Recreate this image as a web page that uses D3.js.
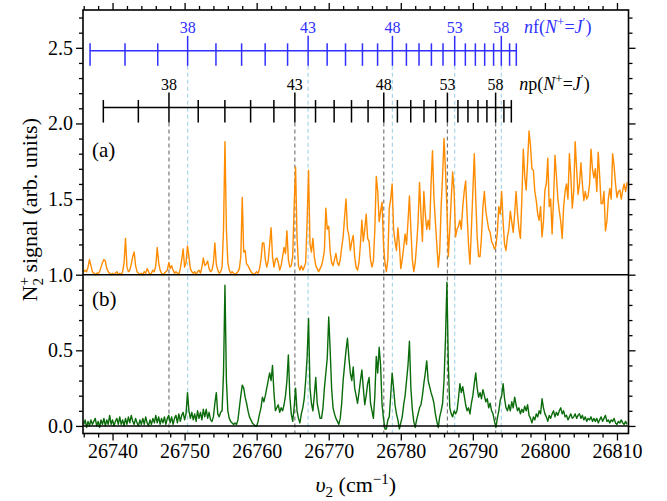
<!DOCTYPE html>
<html>
<head>
<meta charset="utf-8">
<script src="https://cdn.jsdelivr.net/npm/d3@7"></script>
<style>
body { margin: 0; background: #fff; }
text { font-family: "Liberation Serif", "Times New Roman", Tinos, "Nimbus Roman", "DejaVu Serif", serif; }
</style>
</head>
<body>
<script>
// spectra sampled every 0.2 cm-1 starting at gridStart
var gridStart = 26736.0, gridStep = 0.2;

// trace (a), plotted with an offset of 1
var sigA = [
 0.02,0.03,0.02,0.05,0.10, 0.06,0.02,0.01,0.00,0.01, 0.01,0.02,0.05,0.08,0.10, 0.09,0.04,0.02,0.01,0.00,
 0.01,0.00,0.01,0.02,0.00, 0.01,0.00,0.02,0.08,0.24, 0.05,0.02,0.03,0.07,0.12, 0.15,0.06,0.02,0.01,0.00,
 0.01,0.00,0.02,0.01,0.04, 0.02,0.00,0.01,0.03,0.02, 0.06,0.18,0.08,0.03,0.01, 0.00,0.01,0.02,0.03,0.08,
 0.04,0.06,0.03,0.01,0.02, 0.01,0.00,0.04,0.10,0.17, 0.05,0.08,0.19,0.12,0.04, 0.02,0.01,0.02,0.00,0.02,
 0.03,0.01,0.05,0.11,0.06, 0.07,0.09,0.04,0.02,0.03, 0.08,0.21,0.07,0.03,0.01, 0.02,0.05,0.30,0.88,0.30,
 0.08,0.03,0.01,0.02,0.01, 0.00,0.01,0.02,0.04,0.12, 0.51,0.15,0.16,0.07,0.06, 0.04,0.02,0.01,0.00,0.01,
 0.02,0.01,0.04,0.10,0.21, 0.21,0.10,0.05,0.09,0.20, 0.31,0.12,0.05,0.10,0.11, 0.08,0.03,0.06,0.12,0.18,
 0.14,0.29,0.10,0.05,0.06, 0.12,0.45,0.71,0.25,0.06, 0.03,0.06,0.03,0.05,0.08, 0.35,0.69,0.20,0.15,0.24,
 0.12,0.06,0.04,0.02,0.04, 0.06,0.10,0.16,0.44,0.30, 0.32,0.15,0.08,0.06,0.10, 0.14,0.08,0.06,0.10,0.18,
 0.25,0.38,0.50,0.30,0.26, 0.16,0.22,0.26,0.12,0.05, 0.03,0.08,0.20,0.36,0.22, 0.30,0.40,0.24,0.22,0.10,
 0.05,0.09,0.30,0.65,0.55, 0.35,0.42,0.48,0.20,0.08, 0.02,0.10,0.44,0.50,0.60, 0.30,0.22,0.16,0.31,0.20,
 0.04,0.10,0.18,0.27,0.20, 0.35,0.52,0.30,0.10,0.02, 0.08,0.20,0.35,0.61,0.40, 0.22,0.55,0.40,0.30,0.36,
 0.30,0.60,0.82,0.51,0.35, 0.20,0.05,0.15,0.45,0.65, 0.90,0.69,0.45,0.12,0.30, 0.50,0.68,0.55,0.25,0.30,
 0.32,0.36,0.30,0.45,0.55, 0.62,0.40,0.20,0.07,0.30, 0.55,0.80,0.50,0.25,0.12, 0.12,0.25,0.45,0.55,0.42,
 0.36,0.30,0.28,0.22,0.20, 0.17,0.19,0.28,0.45,0.40, 0.55,0.35,0.20,0.16,0.25, 0.30,0.42,0.35,0.28,0.40,
 0.55,0.40,0.30,0.24,0.50, 0.83,0.65,0.56,0.75,0.95, 0.85,0.70,0.69,0.55,0.49, 0.40,0.36,0.45,0.25,0.35,
 0.56,0.60,0.77,0.45,0.50, 0.27,0.50,0.79,0.65,0.50, 0.42,0.35,0.24,0.45,0.55, 0.60,0.50,0.80,0.65,0.44,
 0.55,0.88,0.70,0.53,0.60, 0.74,0.60,0.49,0.55,0.50, 0.52,0.60,0.83,0.70,0.64, 0.70,0.55,0.81,0.65,0.47,
 0.47,0.55,0.29,0.35,0.50, 0.57,0.50,0.80,0.72,0.60, 0.51,0.55,0.56,0.50,0.56, 0.60,0.55,0.61
];
var offsetA = 1.0;

// trace (b)
var sigB = [
 0.01,0.04,-0.01,0.03,0.00, 0.04,0.01,0.03,0.05,0.00, 0.03,-0.01,0.04,0.01,0.05, 0.00,0.04,0.01,0.07,0.01,
 0.04,0.00,0.03,0.05,0.01, 0.06,0.01,0.04,0.00,0.05, 0.01,0.06,0.02,0.07,0.03, 0.01,0.05,0.02,0.00,0.04,
 0.01,0.05,0.01,0.06,0.02, 0.00,0.04,0.01,0.05,0.02, 0.07,0.02,0.06,0.01,0.05, 0.02,0.06,0.01,0.05,0.07,
 0.02,0.06,0.01,0.05,0.07, 0.02,0.08,0.03,0.07,0.09, 0.04,0.08,0.22,0.10,0.05, 0.09,0.04,0.08,0.03,0.10,
 0.05,0.09,0.04,0.11,0.06, 0.11,0.05,0.09,0.04,0.03, 0.06,0.15,0.22,0.08,0.06, 0.09,0.10,0.35,0.93,0.30,
 0.10,0.05,0.03,0.02,0.01, 0.02,0.01,0.04,0.12,0.20, 0.27,0.25,0.19,0.15,0.10, 0.06,0.04,0.02,0.01,0.00,
 0.00,0.03,0.08,0.12,0.19, 0.16,0.20,0.25,0.30,0.35, 0.30,0.40,0.22,0.10,0.12, 0.14,0.09,0.12,0.10,0.14,
 0.20,0.30,0.47,0.20,0.08, 0.03,0.12,0.25,0.10,0.05, 0.02,0.08,0.12,0.18,0.30, 0.45,0.71,0.25,0.15,0.10,
 0.20,0.32,0.15,0.10,0.05, 0.05,0.12,0.25,0.35,0.45, 0.72,0.50,0.25,0.12,0.08, 0.05,0.03,0.01,0.05,0.15,
 0.30,0.40,0.50,0.58,0.45, 0.35,0.30,0.39,0.25,0.20, 0.15,0.22,0.30,0.37,0.25, 0.14,0.20,0.28,0.32,0.15,
 0.10,0.05,0.20,0.46,0.35, 0.52,0.40,0.14,0.05,-0.02, -0.02,0.04,0.06,0.20,0.35, 0.25,0.14,0.08,0.04,-0.02,
 0.02,0.06,0.14,0.20,0.30, 0.40,0.56,0.25,0.11,0.03, -0.01,0.04,0.08,0.12,0.14, 0.20,0.28,0.35,0.43,0.30,
 0.26,0.22,0.19,0.15,0.08, 0.03,-0.01,0.06,0.10,0.15, 0.30,0.57,0.95,0.40,0.12, 0.08,0.06,0.10,0.08,0.10,
 0.18,0.28,0.22,0.26,0.20, 0.14,0.10,0.12,0.08,0.15, 0.20,0.28,0.35,0.25,0.19, 0.22,0.18,0.24,0.20,0.16,
 0.18,0.12,0.15,0.10,0.08, 0.03,-0.01,0.05,0.10,0.17, 0.20,0.28,0.18,0.12,0.10, 0.14,0.10,0.16,0.12,0.19,
 0.14,0.10,0.12,0.08,0.11, 0.09,0.13,0.10,0.14,0.07, 0.05,0.02,0.06,0.04,0.08, 0.06,0.10,0.08,0.18,0.12,
 0.08,0.06,0.03,0.07,0.05, 0.08,0.10,0.06,0.09,0.07, 0.10,0.12,0.08,0.10,0.06, 0.07,0.04,0.06,0.08,0.05,
 0.06,0.08,0.05,0.07,0.08, 0.05,0.07,0.04,0.06,0.03, 0.05,0.04,0.06,0.03,0.05, 0.03,0.05,0.02,0.04,0.06,
 0.03,0.05,0.07,0.03,0.04, 0.02,0.04,0.03,0.05,0.02, 0.01,0.03,0.02,0.04,0.02, 0.01,0.03,0.01
];

// Rydberg ladders: nf and np (N+ = J'), positions in cm-1
var nfLevels = [35,36,37,38,39,40,41,42,43,44,45,46,47,48,49,50,51,52,53,54,55,56,57,58,59,60];
var nfPos = [26736.88,26741.73,26746.27,26750.42,26754.35,26757.91,26761.18,26764.29,26767.14,26769.78,
  26772.33,26774.68,26776.78,26778.84,26780.78,26782.53,26784.25,26785.86,26787.48,26788.96,
  26790.35,26791.64,26792.88,26793.95,26795.10,26796.03];
var npLevels = [36,37,38,39,40,41,42,43,44,45,46,47,48,49,50,51,52,53,54,55,56,57,58,59,60];
var npPos = [26738.72,26743.58,26747.83,26751.89,26755.59,26759.16,26762.39,26765.30,26768.17,26770.75,
  26773.16,26775.46,26777.64,26779.53,26781.38,26783.22,26784.84,26786.47,26787.93,26789.32,
  26790.71,26791.95,26793.16,26794.31,26795.34];
var labelled = [38,43,48,53,58];
var nfY = 2.48, npY = 2.105;

var xTicks = [26740,26750,26760,26770,26780,26790,26800,26810];
var yTicks = [0.0,0.5,1.0,1.5,2.0,2.5];

var margin = {top: 10, right: 38.5, bottom: 67.5, left: 83}
  , width = 667 - margin.left - margin.right
  , height = 501 - margin.top - margin.bottom;

var xScale = d3.scaleLinear().domain([26735.9, 26811.6]).range([0, width]);
var yScale = d3.scaleLinear().domain([-0.05, 2.75]).range([height, 0]);

var svg = d3.select("body").append("svg")
    .attr("width", 667)
    .attr("height", 501)
  .append("g")
    .attr("transform", "translate(" + margin.left + "," + margin.top + ")");

var ptsA = sigA.map(function(v, i) { return {x: gridStart + i * gridStep, y: v + offsetA}; });
var ptsB = sigB.map(function(v, i) { return {x: gridStart + i * gridStep, y: v}; });

var line = d3.line()
    .x(function(d) { return xScale(d.x); })
    .y(function(d) { return yScale(d.y); });

// dashed guide lines under labelled ladder rungs
var blueCol = "#2f2fff";
labelled.forEach(function(n) {
  var xb = xScale(nfPos[nfLevels.indexOf(n)]);
  svg.append("line").attr("x1", xb).attr("x2", xb)
    .attr("y1", yScale(nfY) + 15).attr("y2", height)
    .attr("stroke", "#a9d6e8").attr("stroke-width", 1.2).attr("stroke-dasharray", "4,3");
  var xk = xScale(npPos[npLevels.indexOf(n)]);
  svg.append("line").attr("x1", xk).attr("x2", xk)
    .attr("y1", yScale(npY) + 15).attr("y2", height)
    .attr("stroke", "#7a7a7a").attr("stroke-width", 1.2).attr("stroke-dasharray", "4,3");
});

svg.append("path")
    .attr("d", line(ptsA))
    .attr("fill", "none").attr("stroke", "#ff8c00").attr("stroke-width", 1.4)
    .attr("stroke-linejoin", "round");

svg.append("path")
    .attr("d", line(ptsB))
    .attr("fill", "none").attr("stroke", "#0a6b0a").attr("stroke-width", 1.4)
    .attr("stroke-linejoin", "round");

// baselines
[0, 1].forEach(function(v) {
  svg.append("line").attr("x1", 0).attr("x2", width)
    .attr("y1", yScale(v)).attr("y2", yScale(v))
    .attr("stroke", "#000").attr("stroke-width", 1.4);
});

// ladders
function ladder(levels, pos, yv, col) {
  var g = svg.append("g");
  var y0 = yScale(yv);
  g.append("line")
    .attr("x1", xScale(pos[0])).attr("x2", xScale(pos[pos.length - 1]))
    .attr("y1", y0).attr("y2", y0)
    .attr("stroke", col).attr("stroke-width", 1.5);
  levels.forEach(function(n, i) {
    var big = labelled.indexOf(n) >= 0;
    var x = xScale(pos[i]);
    g.append("line").attr("x1", x).attr("x2", x)
      .attr("y1", y0 - (big ? 15 : 7.5)).attr("y2", y0 + 15)
      .attr("stroke", col).attr("stroke-width", 1.5);
    if (big) {
      g.append("text").attr("x", x).attr("y", y0 - 18)
        .attr("text-anchor", "middle").attr("font-size", 16)
        .attr("fill", col).text(n);
    }
  });
}
ladder(nfLevels, nfPos, nfY, blueCol);
ladder(npLevels, npPos, npY, "#000");

function ladderName(x, y, letter, col) {
  var t = svg.append("text").attr("x", x).attr("y", y)
    .attr("font-size", 18).attr("fill", col);
  t.append("tspan").attr("font-style", "italic").text("n");
  t.append("tspan").text(letter + "(");
  t.append("tspan").attr("font-style", "italic").text("N");
  t.append("tspan").attr("font-size", 13).attr("dy", -7).text("+");
  t.append("tspan").attr("dy", 7).text("=");
  t.append("tspan").attr("font-style", "italic").text("J");
  t.append("tspan").attr("font-size", 13).attr("dy", -7).text("′");
  t.append("tspan").attr("dy", 7).text(")");
}
ladderName(xScale(26796.0) + 8, yScale(nfY) - 18, "f", blueCol);
ladderName(xScale(26795.34) + 8, yScale(npY) - 18, "p", "#000");

// panel labels
svg.append("text").attr("x", 9).attr("y", yScale(1.78)).attr("font-size", 21).text("(a)");
svg.append("text").attr("x", 9).attr("y", yScale(0.79)).attr("font-size", 21).text("(b)");

// axes
var xMinor = d3.range(26736, 26812, 2).filter(function(v) { return v % 10 !== 0; });
var yMinor = d3.range(-0.0, 2.71, 0.1).map(function(v) { return Math.round(v * 10) / 10; })
    .filter(function(v) { return Math.round(v * 10) % 5 !== 0; });

function styleAxis(g) {
  g.attr("font-family", null);
  g.select(".domain").remove();
  g.selectAll("line").attr("stroke", "#000").attr("stroke-width", 1.3);
  g.selectAll("text").attr("font-size", 20).attr("fill", "#000");
}

svg.append("g").attr("transform", "translate(0," + height + ")")
  .call(d3.axisBottom(xScale).tickValues(xTicks).tickSize(7).tickPadding(3).tickFormat(d3.format("d")))
  .call(styleAxis);
svg.append("g").attr("transform", "translate(0," + height + ")")
  .call(d3.axisBottom(xScale).tickValues(xMinor).tickSize(4).tickFormat(""))
  .call(styleAxis);
svg.append("g")
  .call(d3.axisTop(xScale).tickValues(xTicks).tickSize(7).tickFormat(""))
  .call(styleAxis);
svg.append("g")
  .call(d3.axisTop(xScale).tickValues(xMinor).tickSize(4).tickFormat(""))
  .call(styleAxis);

svg.append("g")
  .call(d3.axisLeft(yScale).tickValues(yTicks).tickSize(7).tickPadding(3).tickFormat(d3.format(".1f")))
  .call(styleAxis);
svg.append("g")
  .call(d3.axisLeft(yScale).tickValues(yMinor).tickSize(4).tickFormat(""))
  .call(styleAxis);
svg.append("g").attr("transform", "translate(" + width + ",0)")
  .call(d3.axisRight(yScale).tickValues(yTicks).tickSize(7).tickFormat(""))
  .call(styleAxis);
svg.append("g").attr("transform", "translate(" + width + ",0)")
  .call(d3.axisRight(yScale).tickValues(yMinor).tickSize(4).tickFormat(""))
  .call(styleAxis);

svg.append("rect").attr("width", width).attr("height", height)
  .attr("fill", "none").attr("stroke", "#000").attr("stroke-width", 1.6);

// axis titles
var xt = svg.append("text")
  .attr("transform", "translate(" + (width / 2) + "," + (height + 58) + ")")
  .style("text-anchor", "middle").attr("font-size", 22);
xt.append("tspan").attr("font-style", "italic").text("υ");
xt.append("tspan").attr("font-size", 15).attr("dy", 5).text("2");
xt.append("tspan").attr("dy", -5).text(" (cm");
xt.append("tspan").attr("font-size", 15).attr("dy", -8).text("−1");
xt.append("tspan").attr("dy", 8).text(")");

var yt = svg.append("text")
  .attr("transform", "translate(-46," + (height / 2 - 12) + ") rotate(-90)")
  .style("text-anchor", "middle").attr("font-size", 22);
yt.append("tspan").text("N");
yt.append("tspan").attr("font-size", 15).attr("dy", -8).text("+");
yt.append("tspan").attr("font-size", 15).attr("dx", -8.5).attr("dy", 14).text("2");
yt.append("tspan").attr("dy", -6).text(" signal (arb. units)");
</script>
</body>
</html>
